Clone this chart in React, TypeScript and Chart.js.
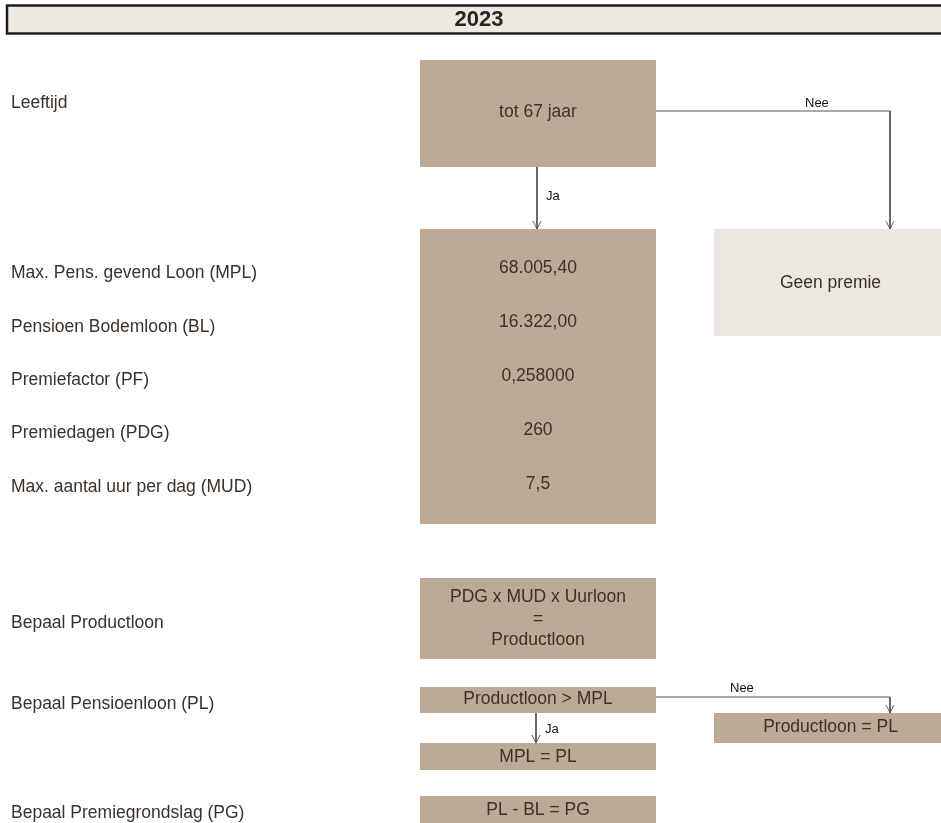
import React, { useEffect, useRef } from "react";
import { Chart, registerables } from "chart.js";

Chart.register(...registerables);

// ---------- diagram content (values in diagram units of the x/y scales) ----------
const headerTitle = "2023";

const rowLabels = [
  "Leeftijd",
  "Max. Pens. gevend Loon (MPL)",
  "Pensioen Bodemloon (BL)",
  "Premiefactor (PF)",
  "Premiedagen (PDG)",
  "Max. aantal uur per dag (MUD)",
  "Bepaal Productloon",
  "Bepaal Pensioenloon (PL)",
  "Bepaal Premiegrondslag (PG)",
];
const rowLabelY = [103, 273, 327, 380, 433, 487, 623, 704, 813];

const parameterValues = ["68.005,40", "16.322,00", "0,258000", "260", "7,5"];
const parameterValueY = [268, 322, 376, 430, 484];

const boxLeft = [420, 420, 714, 420, 420, 714, 420, 420];
const boxRight = [656, 656, 950, 656, 656, 950, 656, 656];
const boxTop = [60, 229, 229, 578, 687, 713, 743, 796];
const boxBottom = [167, 524, 336, 659, 713, 743, 770, 830];
const boxLight = [false, false, true, false, false, false, false, false];
const boxText = [
  ["tot 67 jaar"],
  [],
  ["Geen premie"],
  ["PDG x MUD x Uurloon", "=", "Productloon"],
  ["Productloon > MPL"],
  ["Productloon = PL"],
  ["MPL = PL"],
  ["PL - BL = PG"],
];
const boxTextY = [[112], [], [283], [597, 619, 640], [699], [727], [757], [810]];

const connectorX = [
  [537, 537],
  [656, 890, 890],
  [536, 536],
  [656, 890, 890],
];
const connectorY = [
  [167, 229],
  [111, 111, 229],
  [713, 743],
  [697, 697, 713],
];
const connectorLabel = ["Ja", "Nee", "Ja", "Nee"];
const connectorLabelX = [546, 805, 545, 730];
const connectorLabelY = [196, 103, 729, 688];

const FONT = '"Liberation Sans", Arial, Helvetica, sans-serif';
const TAN = "#bdaa96";
const LIGHT = "#ece7e1";
const TEXT = "#3b3129";

const diagramPlugin = {
  id: "diagram",
  beforeDatasetsDraw(chart: any) {
    const { ctx } = chart;
    const xs = chart.scales.x;
    const ys = chart.scales.y;
    ctx.save();
    // header bar
    const hx0 = xs.getPixelForValue(7);
    const hx1 = xs.getPixelForValue(960);
    const hy0 = ys.getPixelForValue(5.5);
    const hy1 = ys.getPixelForValue(33.5);
    ctx.fillStyle = "#ede8e2";
    ctx.fillRect(hx0, hy0, hx1 - hx0, hy1 - hy0);
    ctx.strokeStyle = "#1e1e1e";
    ctx.lineWidth = 2.5;
    ctx.strokeRect(hx0, hy0, hx1 - hx0, hy1 - hy0);
    // boxes
    for (let i = 0; i < boxLeft.length; i++) {
      const x0 = xs.getPixelForValue(boxLeft[i]);
      const x1 = xs.getPixelForValue(boxRight[i]);
      const y0 = ys.getPixelForValue(boxTop[i]);
      const y1 = ys.getPixelForValue(boxBottom[i]);
      ctx.fillStyle = boxLight[i] ? LIGHT : TAN;
      ctx.fillRect(x0, y0, x1 - x0, y1 - y0);
    }
    ctx.restore();
  },
  afterDatasetsDraw(chart: any) {
    const { ctx } = chart;
    const xs = chart.scales.x;
    const ys = chart.scales.y;
    ctx.save();
    ctx.textBaseline = "middle";
    // header title
    ctx.fillStyle = "#2a2520";
    ctx.font = `bold 22px ${FONT}`;
    ctx.textAlign = "center";
    ctx.fillText(headerTitle, xs.getPixelForValue(479), ys.getPixelForValue(20));
    // row labels
    ctx.font = `17.5px ${FONT}`;
    ctx.fillStyle = TEXT;
    ctx.textAlign = "left";
    rowLabels.forEach((t, i) => {
      ctx.fillText(t, xs.getPixelForValue(11), ys.getPixelForValue(rowLabelY[i]));
    });
    // parameter values
    ctx.textAlign = "center";
    parameterValues.forEach((t, i) => {
      ctx.fillText(t, xs.getPixelForValue(538), ys.getPixelForValue(parameterValueY[i]));
    });
    // box texts
    boxText.forEach((lines, i) => {
      const right = Math.min(boxRight[i], 941);
      const cx = (boxLeft[i] + right) / 2 + (boxRight[i] > 941 ? 3 : 0);
      lines.forEach((t, j) => {
        ctx.fillText(t, xs.getPixelForValue(cx), ys.getPixelForValue(boxTextY[i][j]));
      });
    });
    // connector labels
    ctx.font = `13px ${FONT}`;
    ctx.fillStyle = "#111";
    ctx.textAlign = "left";
    connectorLabel.forEach((t, i) => {
      ctx.fillText(t, xs.getPixelForValue(connectorLabelX[i]), ys.getPixelForValue(connectorLabelY[i]));
    });
    ctx.restore();
  },
};

function buildDatasets() {
  const ds: any[] = [];
  connectorX.forEach((xsArr, i) => {
    const pts = xsArr.map((x, j) => ({ x, y: connectorY[i][j] }));
    ds.push({
      type: "scatter",
      data: pts,
      showLine: true,
      borderColor: "#555",
      borderWidth: 1,
      pointRadius: 0,
      fill: false,
    });
    const end = pts[pts.length - 1];
    ds.push({
      type: "scatter",
      data: [
        { x: end.x - 4, y: end.y - 8 },
        { x: end.x, y: end.y },
        { x: end.x + 4, y: end.y - 8 },
      ],
      showLine: true,
      borderColor: "#666",
      borderWidth: 1,
      pointRadius: 0,
      fill: false,
    });
  });
  return ds;
}

export default function App() {
  const ref = useRef<HTMLCanvasElement | null>(null);
  useEffect(() => {
    if (!ref.current) return;
    const chart = new Chart(ref.current, {
      type: "scatter",
      data: { datasets: buildDatasets() },
      options: {
        animation: false,
        responsive: false,
        maintainAspectRatio: false,
        devicePixelRatio: 1,
        layout: { padding: 0 },
        plugins: { legend: { display: false }, tooltip: { enabled: false } },
        events: [],
        scales: {
          x: { type: "linear", min: 0, max: 941, display: false },
          y: { type: "linear", min: 0, max: 823, reverse: true, display: false },
        },
      },
      plugins: [diagramPlugin],
    } as any);
    return () => chart.destroy();
  }, []);
  return (
    <div style={{ position: "absolute", left: 0, top: 0, width: 941, height: 823, background: "#fff" }}>
      <canvas ref={ref} width={941} height={823} style={{ width: 941, height: 823, display: "block" }} />
    </div>
  );
}
